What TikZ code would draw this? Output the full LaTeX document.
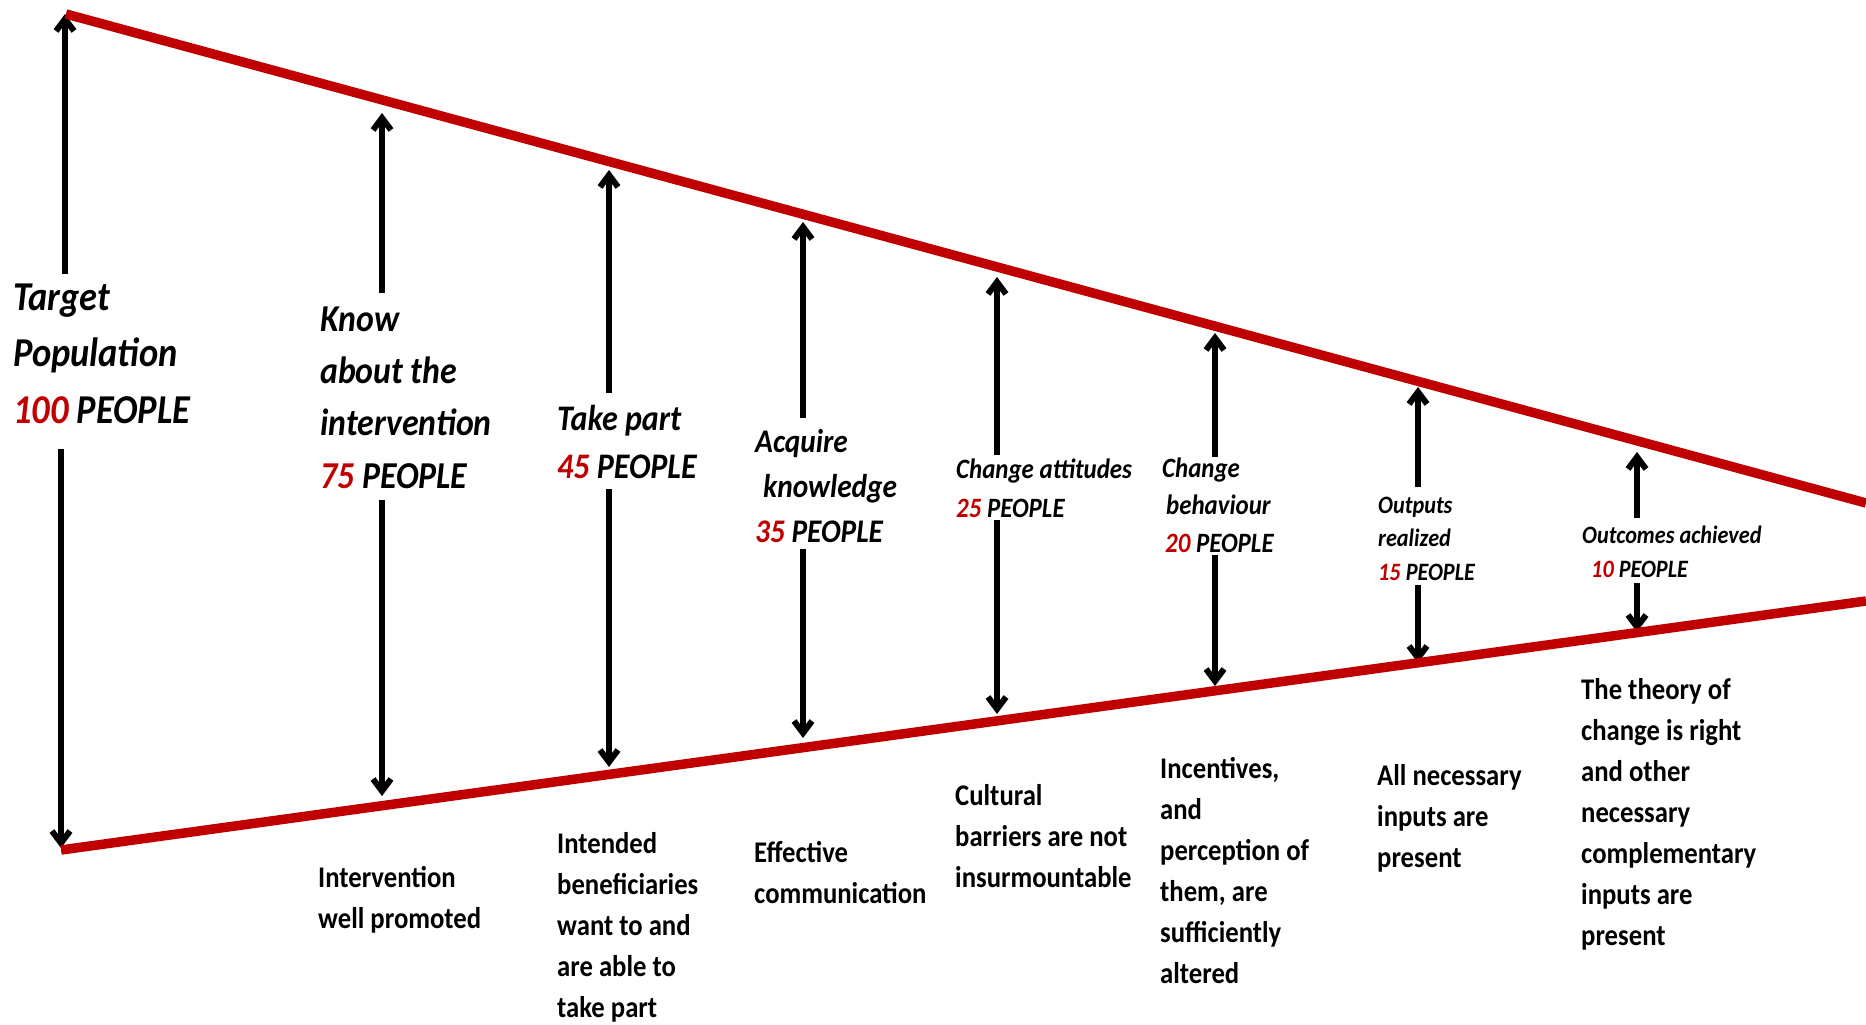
\documentclass[tikz,border=0pt]{standalone}
\usepackage{fontspec}
\setmainfont{Carlito}[FakeStretch=0.89]
\usetikzlibrary{arrows.meta}
\definecolor{fred}{HTML}{C00000}
\begin{document}
\begin{tikzpicture}[x=1pt,y=-1pt,
  arr/.style={line width=6pt, -{Straight Barb[length=12pt,width=18pt]}},
  redline/.style={line width=9.5pt, draw=fred, line cap=butt},
  up/.style 2 args={font=\bfseries\itshape\fontsize{#1}{#2}\selectfont, align=left, anchor=base west, inner sep=0pt},
  low/.style={font=\bfseries\fontsize{30}{41}\selectfont, align=left, anchor=base west, inner sep=0pt}]
\useasboundingbox (0,0) rectangle (1866,1025);

% upper labels (anchored at the baseline of their last line)
\node[up={41}{56.5}] (L1) at (13,423) {Target\\Population\\\textcolor{fred}{100} PEOPLE};
\node[up={38}{52.3}] (L2) at (320,488) {Know\\about the\\intervention\\\textcolor{fred}{75} PEOPLE};
\node[up={36}{48}] (L3) at (557,478) {Take part\\\textcolor{fred}{45} PEOPLE};
\node[up={33}{45}] (L4) at (755,542) {Acquire\\\hspace*{8pt}knowledge\\\textcolor{fred}{35} PEOPLE};
\node[up={28}{39}] (L5) at (956,517) {Change attitudes\\\textcolor{fred}{25} PEOPLE};
\node[up={28}{37.5}] (L6) at (1162,552) {Change\\\hspace*{4pt}behaviour\\\hspace*{3pt}\textcolor{fred}{20} PEOPLE};
\node[up={25}{33.5}] (L7) at (1378,580) {Outputs\\realized\\\textcolor{fred}{15} PEOPLE};
\node[up={25}{34}] (L8) at (1582,577) {Outcomes achieved\\\hspace*{9pt}\textcolor{fred}{10} PEOPLE};

% lower labels
\node[low] (B2) at (318,928) {Intervention\\well promoted};
\node[low] (B3) at (557,1017) {Intended\\beneficiaries\\want to and\\are able to\\take part};
\node[low] (B4) at (754,903) {Effective\\communication};
\node[low] (B5) at (955,887) {Cultural\\barriers are not\\insurmountable};
\node[low] (B6) at (1160,983) {Incentives,\\and\\perception of\\them, are\\sufficiently\\altered};
\node[low] (B7) at (1377,867) {All necessary\\inputs are\\present};
\node[low] (B8) at (1581,945) {The theory of\\change is right\\and other\\necessary\\complementary\\inputs are\\present};

% arrows: index / x top / top tip / top start / x bottom / bottom start / bottom tip
\foreach \i/\xu/\ut/\us/\xd/\ds/\dt in {
  1/65/14/274/61/449/848,
  2/382/113/293/382/500/796,
  3/609/170/393/609/489/767,
  4/803/222/418/803/549/738,
  5/997/277/455/997/520/714,
  6/1215/333/457/1215/555/686,
  7/1418/387/487/1418/585/663,
  8/1637/452/518/1637/583/632}{
  \coordinate (us\i) at (\xu,\us);
  \coordinate (ut\i) at (\xu,\ut);
  \coordinate (ds\i) at (\xd,\ds);
  \coordinate (dt\i) at (\xd,\dt);
  \draw[arr] (us\i) -- (ut\i);
  \draw[arr] (ds\i) -- (dt\i);
}

% funnel lines
\coordinate (TL) at (66,14);
\coordinate (TR) at (1866,503);
\coordinate (BL) at (61,850);
\coordinate (BR) at (1866,601);
\draw[redline] (TL) -- (TR);
\draw[redline] (BL) -- (BR);
\end{tikzpicture}
\end{document}
